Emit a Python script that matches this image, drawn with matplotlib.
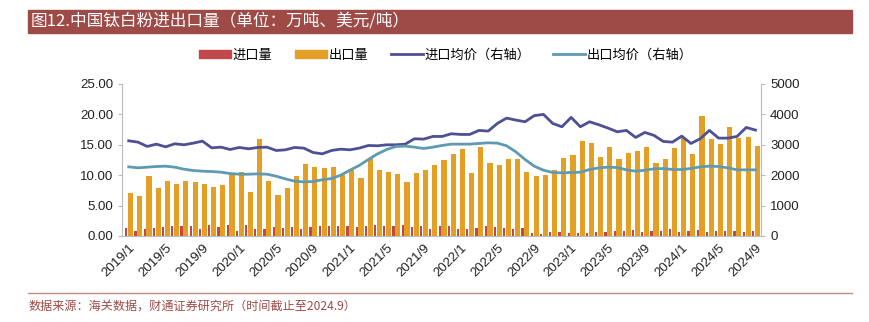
import matplotlib
matplotlib.use("Agg")
import matplotlib.pyplot as plt
from matplotlib.patches import Rectangle
from matplotlib.lines import Line2D
from matplotlib.patches import Patch
import numpy as np

plt.rcParams['font.family'] = ['Liberation Sans', 'Noto Sans CJK SC', 'DejaVu Sans']

months = [f"{y}/{m}" for y in range(2019, 2025) for m in range(1, 13)][:69]

import_vol = [1.27, 0.88, 1.2, 1.38, 1.43, 1.65, 1.6, 1.6, 1.15, 1.87, 1.5, 1.76,
              0.77, 1.76, 1.2, 1.2, 1.43, 1.38, 1.43, 1.2, 1.43, 1.65, 1.6, 1.65,
              1.6, 1.43, 1.6, 1.8, 1.6, 1.65, 1.76, 1.5, 1.7, 1.2, 1.7, 1.6,
              1.15, 1.15, 1.27, 1.6, 1.5, 1.27, 1.1, 1.27, 0.45, 0.3, 0.6, 0.7,
              0.45, 0.55, 0.5, 0.65, 0.7, 0.75, 0.8, 0.95, 0.7, 0.8, 0.9, 1.1,
              0.65, 0.75, 1.05, 0.65, 0.9, 0.85, 0.9, 0.65, 0.8]

export_vol = [7.1, 6.6, 9.95, 7.86, 9.0, 8.5, 9.0, 8.9, 8.5, 8.1, 8.35, 10.3,
              10.5, 7.3, 15.9, 9.0, 6.8, 7.86, 9.95, 11.8, 11.3, 11.15, 11.4, 10.1,
              10.9, 9.55, 12.75, 10.9, 10.6, 10.2, 8.9, 10.4, 10.9, 11.7, 12.5, 13.5,
              14.3, 10.3, 14.6, 12.0, 11.7, 12.6, 12.7, 10.55, 9.8, 10.0, 10.9, 12.85,
              13.3, 15.6, 15.3, 13.0, 14.6, 12.7, 13.7, 13.9, 14.7, 12.0, 12.6, 14.5,
              16.2, 13.5, 19.8, 15.9, 15.1, 17.85, 16.1, 16.25, 14.8]

import_price = [3131, 3088, 2946, 3022, 2933, 3033, 3000, 3055, 3121, 2900, 2923, 2846,
                2912, 2868, 2912, 2923, 2813, 2835, 2912, 2890, 2747, 2703, 2813, 2857,
                2835, 2890, 2978, 2967, 3000, 3000, 3022, 3198, 3187, 3275, 3275, 3363,
                3341, 3341, 3473, 3451, 3703, 3879, 3813, 3758, 3960, 4000, 3703, 3593,
                3902, 3593, 3758, 3659, 3550, 3428, 3473, 3242, 3407, 3308, 3110, 3088,
                3286, 3044, 3198, 3473, 3220, 3220, 3275, 3571, 3484]

export_price = [2275, 2242, 2264, 2286, 2297, 2264, 2198, 2154, 2132, 2121, 2099, 2055,
                2033, 2033, 2044, 2033, 1967, 1879, 1803, 1780, 1791, 1850, 1890, 2000,
                2165, 2319, 2517, 2703, 2846, 2946, 2956, 2923, 2879, 2923, 2978, 3022,
                3022, 3022, 3044, 3066, 3055, 2967, 2769, 2517, 2297, 2165, 2089, 2077,
                2089, 2099, 2187, 2242, 2264, 2253, 2176, 2132, 2165, 2209, 2220, 2187,
                2187, 2220, 2275, 2297, 2286, 2242, 2176, 2176, 2176]

c_imp = '#C0474A'
c_exp = '#E3A025'
c_ip = '#4E5096'
c_ep = '#5E9BB2'
c_brand = '#9E4B47'

fig = plt.figure(figsize=(8.69, 3.22), dpi=100)

# title bar
fig.patches.append(Rectangle((28/869, 1-33/322), (852-28)/869, 23/322,
                             transform=fig.transFigure, color=c_brand, zorder=0))
fig.text(31/869, 1-21.5/322, "图12.中国钛白粉进出口量（单位：万吨、美元/吨）",
         color='white', fontsize=12, va='center', ha='left',
         family=['Noto Sans CJK SC', 'DejaVu Sans'])

ax = fig.add_axes([122/869, 1-236/322, (761-122)/869, (236-84)/322])
ax2 = ax.twinx()

x = np.arange(len(months))
ax.bar(x - 0.27, import_vol, width=0.24, color=c_imp, zorder=2)
ax.bar(x + 0.2, export_vol, width=0.56, color=c_exp, zorder=3)
ax2.plot(x, import_price, color=c_ip, lw=2, zorder=4)
ax2.plot(x, export_price, color=c_ep, lw=2, zorder=4)

ax.set_xlim(-0.73, 68.6)
ax.set_ylim(0, 25)
ax.set_yticks(np.arange(0, 26, 5))
ax.set_yticklabels([f"{v:.2f}" for v in np.arange(0, 26, 5)])
ax2.set_ylim(0, 5000)
ax2.set_yticks(np.arange(0, 5001, 1000))

ticks = list(range(0, 69, 4))
ax.set_xticks(ticks)
ax.set_xticklabels([months[i] for i in ticks], rotation=45, ha='right',
                   rotation_mode='anchor')

for a in (ax, ax2):
    a.spines['top'].set_visible(False)
    a.tick_params(labelsize=9.5, colors='#222222', length=3, color='#BBBBBB')
ax.spines['left'].set_color('#BBBBBB')
ax.spines['right'].set_visible(False)
ax.spines['bottom'].set_color('#BBBBBB')
ax2.spines['left'].set_visible(False)
ax2.spines['bottom'].set_visible(False)
ax2.spines['right'].set_color('#BBBBBB')
ax.tick_params(axis='x', length=0, pad=4)

handles = [Patch(color=c_imp), Patch(color=c_exp),
           Line2D([], [], color=c_ip, lw=2), Line2D([], [], color=c_ep, lw=2)]
labels = ['进口量', '出口量', '进口均价（右轴）', '出口均价（右轴）']
fig.legend(handles, labels, loc='center', bbox_to_anchor=(446/869, 1-55/322),
           ncol=4, frameon=False, prop={'family': ['Noto Sans CJK SC'], 'size': 9.5},
           handlelength=2.4, handleheight=0.5, columnspacing=1.7, handletextpad=0.15)

# footer
fig.add_artist(Line2D([28/869, 852/869], [1-292.5/322]*2, color='#C08A88', lw=1,
                      transform=fig.transFigure))
fig.text(29/869, 1-306/322, "数据来源：海关数据，财通证券研究所（时间截止至2024.9）",
         color=c_brand, fontsize=8.7, va='center', ha='left',
         family=['Noto Sans CJK SC', 'DejaVu Sans'])

fig.savefig('out.png', dpi=100)
